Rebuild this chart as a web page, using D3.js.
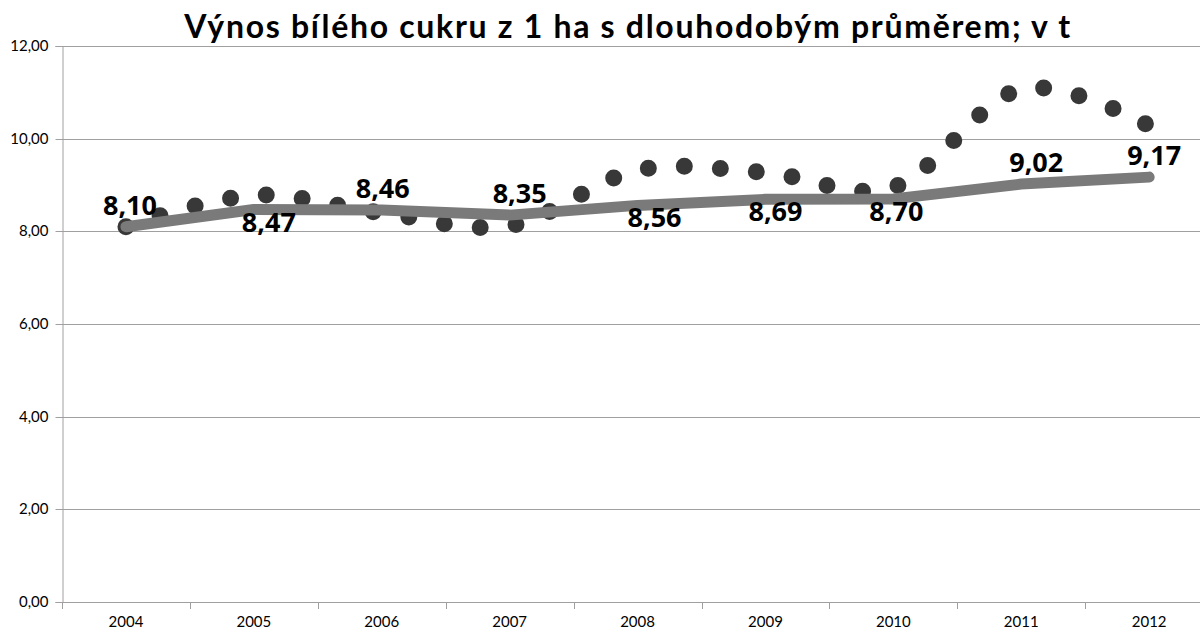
<!DOCTYPE html>
<html lang="cs">
<head>
<meta charset="UTF-8">
<title>Výnos bílého cukru</title>
<script src="https://cdn.jsdelivr.net/npm/d3@7/dist/d3.min.js"></script>
<style>
  body { margin: 0; background: #fff; }
  svg { display: block; }
  .title { font-family: Lato, "Open Sans", sans-serif; font-weight: 700; font-size: 32px; letter-spacing: 1.7px; fill: #000; }
  .tick text { font-family: Lato, "Open Sans", sans-serif; font-size: 15px; fill: #000; }
  .val { font-family: "Open Sans", sans-serif; font-weight: 700; font-size: 27px; fill: #000; }
</style>
</head>
<body>
<div id="chart"></div>
<script>
// data
const years = ["2004", "2005", "2006", "2007", "2008", "2009", "2010", "2011", "2012"];
const yearly = [8.10, 8.78, 8.40, 8.12, 9.32, 9.27, 8.95, 11.07, 10.28];   // dotted series
const average = [8.10, 8.47, 8.46, 8.35, 8.56, 8.69, 8.70, 9.02, 9.17];  // long-term average
const yTicks = [0, 2, 4, 6, 8, 10, 12];
// label placement for the average values: horizontal shift, above/below
const labelDx = [4, 15, 1, 10, 17, 10, 3, 15, 5];
const labelSide = ["above", "below", "above", "above", "below", "below", "below", "above", "above"];

const titleText = "Výnos bílého cukru z 1 ha s dlouhodobým průměrem; v t";

const W = 1200, H = 634;
const margin = { top: 46, left: 62, bottom: 32 };
const plotRight = 62 + 9 * 127.9;   // plot area runs past the right edge

const svg = d3.select("#chart").append("svg")
  .attr("width", W)
  .attr("height", H);

const x = d3.scaleBand()
  .domain(years)
  .range([margin.left, plotRight])
  .padding(0);

const y = d3.scaleLinear()
  .domain([0, 12])
  .range([H - margin.bottom, margin.top]);

const fmt = d => d3.format(".2f")(d).replace(".", ",");

// gridlines
svg.append("g")
  .selectAll("line")
  .data(yTicks)
  .join("line")
  .attr("x1", margin.left)
  .attr("x2", plotRight)
  .attr("y1", d => Math.round(y(d)) + 0.5)
  .attr("y2", d => Math.round(y(d)) + 0.5)
  .attr("stroke", "#a0a0a0")
  .attr("stroke-width", 1);

// y axis
const yAxis = svg.append("g")
  .attr("transform", `translate(${margin.left + 0.5},0)`)
  .call(d3.axisLeft(y).tickValues(yTicks).tickFormat(fmt).tickSize(7).tickPadding(7));
yAxis.select(".domain").attr("stroke", "#a0a0a0");
yAxis.selectAll(".tick line").attr("stroke", "#a0a0a0");
yAxis.selectAll(".tick").attr("transform", d => `translate(0,${Math.round(y(d)) + 0.5})`);

// x axis: labels at band centres, ticks at band boundaries
const xAxis = svg.append("g")
  .attr("transform", `translate(0,${Math.round(y(0)) + 0.5})`)
  .call(d3.axisBottom(x).tickSize(0).tickPadding(14));
xAxis.select(".domain").remove();
xAxis.selectAll(".tick text").attr("dy", "0.71em");

svg.append("g")
  .selectAll("line")
  .data(years)
  .join("line")
  .attr("x1", d => Math.round(x(d)) + 0.5)
  .attr("x2", d => Math.round(x(d)) + 0.5)
  .attr("y1", Math.round(y(0)))
  .attr("y2", Math.round(y(0)) + 7)
  .attr("stroke", "#a0a0a0");

// dotted yearly series (smoothed)
const cx = (d, i) => x(years[i]) + x.bandwidth() / 2;

svg.append("path")
  .datum(yearly)
  .attr("fill", "none")
  .attr("stroke", "#383838")
  .attr("stroke-width", 17)
  .attr("stroke-linecap", "round")
  .attr("stroke-dasharray", "0 36.1")
  .attr("d", d3.line()
    .x(cx)
    .y(d => y(d))
    .curve(d3.curveCardinal.tension(0)));

// average line
svg.append("path")
  .datum(average)
  .attr("fill", "none")
  .attr("stroke", "#7a7a7a")
  .attr("stroke-width", 11)
  .attr("stroke-linecap", "round")
  .attr("stroke-linejoin", "round")
  .attr("d", d3.line()
    .x(cx)
    .y(d => y(d)));

// value labels
svg.append("g")
  .selectAll("text")
  .data(average)
  .join("text")
  .attr("class", "val")
  .attr("text-anchor", "middle")
  .attr("x", (d, i) => cx(d, i) + labelDx[i])
  .attr("y", (d, i) => labelSide[i] === "above" ? y(d) - 12 : y(d) + 22)
  .text(fmt);

// title
svg.append("text")
  .attr("class", "title")
  .attr("x", 628)
  .attr("y", 38)
  .attr("text-anchor", "middle")
  .text(titleText);
</script>
</body>
</html>
